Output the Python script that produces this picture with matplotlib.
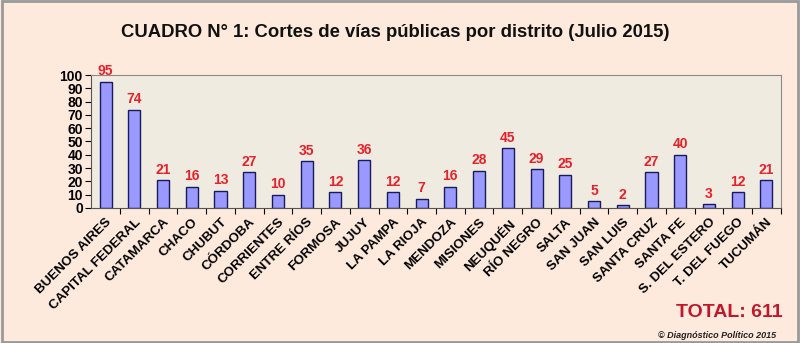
import matplotlib
matplotlib.use("Agg")
from matplotlib import pyplot as plt

distritos = ["BUENOS AIRES", "CAPITAL FEDERAL", "CATAMARCA", "CHACO", "CHUBUT",
             "CÓRDOBA", "CORRIENTES", "ENTRE RÍOS", "FORMOSA", "JUJUY", "LA PAMPA",
             "LA RIOJA", "MENDOZA", "MISIONES", "NEUQUÉN", "RÍO NEGRO", "SALTA",
             "SAN JUAN", "SAN LUIS", "SANTA CRUZ", "SANTA FE", "S. DEL ESTERO",
             "T. DEL FUEGO", "TUCUMÁN"]
cortes = [95, 74, 21, 16, 13, 27, 10, 35, 12, 36, 12, 7, 16, 28, 45, 29, 25,
          5, 2, 27, 40, 3, 12, 21]
yticks = list(range(0, 101, 10))

plt.rcParams['font.family'] = ['Liberation Sans', 'DejaVu Sans']

fig = plt.figure(figsize=(8, 3.43), dpi=100, facecolor='#FDEADC')
fig.patches.append(plt.Rectangle((0.002, 0.003), 0.996, 0.994, transform=fig.transFigure,
                                 fill=False, edgecolor='#9a9a9a', linewidth=2))
ax = fig.add_axes([0.114, 0.394, 0.862, 0.387])
ax.set_facecolor('#EFEBE0')

x = range(len(cortes))
ax.bar(x, cortes, width=0.42, color='#9999FF', edgecolor='#1a1a5a', linewidth=1)
for i, v in enumerate(cortes):
    ax.text(i, v + 2.5, str(v), ha='center', va='bottom', color='#E8202A',
            fontsize=10, fontweight='bold')

ax.set_xlim(-0.5, len(cortes) - 0.5)
ax.set_ylim(0, 100)
ax.set_yticks(yticks)
ax.set_yticklabels([str(t) for t in yticks], fontsize=10, fontweight='bold')
ax.set_xticks([i + 0.5 for i in x], minor=False)
ax.set_xticklabels([])
ax.set_xticks(list(x), minor=True)
ax.set_xticklabels(distritos, minor=True, rotation=45, ha='right',
                   rotation_mode='anchor', fontsize=9.6, fontweight='bold')
ax.tick_params(axis='x', which='minor', length=0, pad=6)
ax.tick_params(axis='x', which='major', length=4, direction='out')
ax.tick_params(axis='y', length=4, direction='out', pad=2)
for s in ['left', 'bottom']:
    ax.spines[s].set_color('#555555')
for s in ['top', 'right']:
    ax.spines[s].set_color('#8a8a8a')

fig.text(0.494, 0.905, 'CUADRO N° 1: Cortes de vías públicas por distrito (Julio 2015)',
         ha='center', va='center', fontsize=13.3, fontweight='bold', color='#111111')
fig.text(0.978, 0.09, 'TOTAL: 611', ha='right', va='center', fontsize=14,
         fontweight='bold', color='#C0182A')
fig.text(0.97, 0.022, '© Diagnóstico Político 2015', ha='right', va='center',
         fontsize=6.5, fontweight='bold', style='italic', color='#222222')

plt.savefig('out.png', dpi=100, facecolor=fig.get_facecolor())
plt.close()
